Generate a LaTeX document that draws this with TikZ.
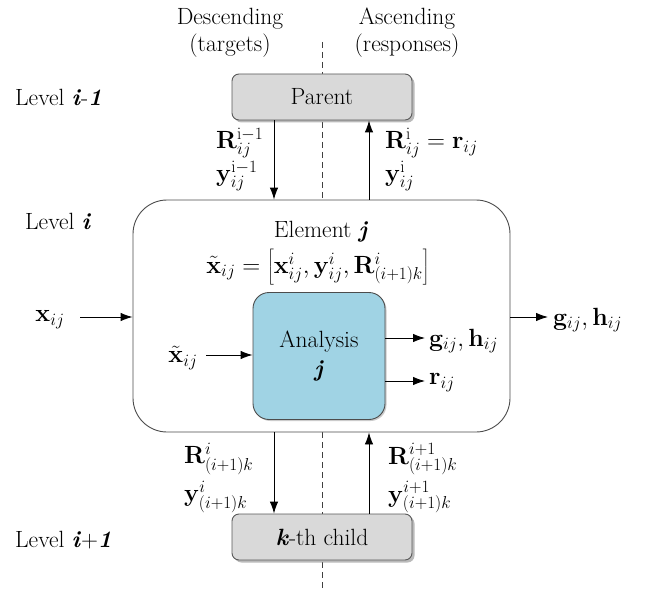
\documentclass[tikz,border=0pt]{standalone}
\usetikzlibrary{arrows.meta,shadows,calc}
\begin{document}
\begin{tikzpicture}[x=1pt,y=-1pt,
  every node/.style={font=\fontsize{23.5}{27}\selectfont, inner sep=1pt},
  arr/.style={draw=black, line width=0.9pt, -{Latex[length=12pt,width=8.5pt]}},
  greybox/.style={draw=black!65, fill=black!15, rounded corners=7pt, line width=0.9pt,
    minimum width=180pt, minimum height=46pt,
    drop shadow={shadow xshift=2.5pt, shadow yshift=-2.5pt, fill=black!45, opacity=0.6}},
  elembox/.style={draw=black!70, fill=white, rounded corners=34pt, line width=0.9pt,
    minimum width=377pt, minimum height=232pt},
  anabox/.style={draw=black!70, fill={rgb,255:red,160;green,211;blue,228},
    rounded corners=16pt, line width=0.9pt, minimum width=132pt, minimum height=127pt,
    drop shadow={shadow xshift=1.5pt, shadow yshift=-1.5pt, fill=black!40, opacity=0.5}},
  lbl/.style={anchor=west, inner sep=0pt}
]
\useasboundingbox (0,0) rectangle (645,591);
% dashed divider
\coordinate (dtop) at (322,42);
\coordinate (dbot) at (322,591);
\draw[line width=0.9pt, black!75, dash pattern=on 6pt off 4pt] (dtop) -- (dbot);

% headings
\node[align=center] (desc) at (230,33) {Descending\\(targets)};
\node[align=center] (asc) at (407,33) {Ascending\\(responses)};

% level labels
\node[anchor=west] (l1) at (14,97) {Level \textbf{\textit{i}}-\textbf{\textit{1}}};
\node[anchor=west] (l2) at (24,221) {Level \textbf{\textit{i}}};
\node[anchor=west] (l3) at (14,540) {Level \textbf{\textit{i}}+\textbf{\textit{1}}};

% boxes
\node[greybox] (parent) at (322,97) {Parent};
\node[elembox] (elem) at (321.5,316) {};
\node[greybox] (child) at (322,537) {\textbf{\textit{k}}-th child};
\node[anabox, align=center] (ana) at (319,356) {Analysis\\[2pt]\textbf{\textit{j}}};

% element header
\node (ej) at (321,232) {Element \textbf{\textit{j}}};
\node (xeq) at (318,267) {$\tilde{\mathbf{x}}_{ij} = \left[\mathbf{x}^{i}_{ij}, \mathbf{y}^{i}_{ij}, \mathbf{R}^{i}_{(i+1)k}\right]$};

% x positions of vertical arrows
\coordinate (xl) at (274,0);
\coordinate (xr) at (369,0);

% top arrows
\draw[arr] (parent.south -| xl) -- (elem.north -| xl);
\draw[arr] (elem.north -| xr) -- (parent.south -| xr);
\node[lbl] (rtl) at (216,143) {$\mathbf{R}^{\mathrm{i}-1}_{ij}$};
\node[lbl] (ytl) at (216,176) {$\mathbf{y}^{\mathrm{i}-1}_{ij}$};
\node[lbl] (rtr) at (385,143) {$\mathbf{R}^{\mathrm{i}}_{ij} = \mathbf{r}_{ij}$};
\node[lbl] (ytr) at (385,176) {$\mathbf{y}^{\mathrm{i}}_{ij}$};

% bottom arrows
\draw[arr] (elem.south -| xl) -- (child.north -| xl);
\draw[arr] (child.north -| xr) -- (elem.south -| xr);
\node[lbl] (rbl) at (184,459) {$\mathbf{R}^{i}_{(i+1)k}$};
\node[lbl] (ybl) at (184,497) {$\mathbf{y}^{i}_{(i+1)k}$};
\node[lbl] (rbr) at (388,459) {$\mathbf{R}^{i+1}_{(i+1)k}$};
\node[lbl] (ybr) at (388,497) {$\mathbf{y}^{i+1}_{(i+1)k}$};

% side inputs/outputs
\node (xin) at (50,320) {$\mathbf{x}_{ij}$};
\coordinate (xinr) at (80,317);
\draw[arr] (xinr) -- (elem.west |- xinr);
\node[anchor=west] (gout) at (552,320) {$\mathbf{g}_{ij}, \mathbf{h}_{ij}$};
\coordinate (goutl) at (548,317);
\draw[arr] (elem.east |- goutl) -- (goutl);

% inner
\node (xt) at (183,358) {$\tilde{\mathbf{x}}_{ij}$};
\coordinate (xtr) at (206,355);
\draw[arr] (xtr) -- (ana.west |- xtr);
\coordinate (ghl) at (425,338);
\coordinate (rl) at (425,381);
\draw[arr] (ana.east |- ghl) -- (ghl);
\draw[arr] (ana.east |- rl) -- (rl);
\node[anchor=west] (gh) at (428,341) {$\mathbf{g}_{ij}, \mathbf{h}_{ij}$};
\node[anchor=west] (r) at (428,383) {$\mathbf{r}_{ij}$};
\end{tikzpicture}
\end{document}
